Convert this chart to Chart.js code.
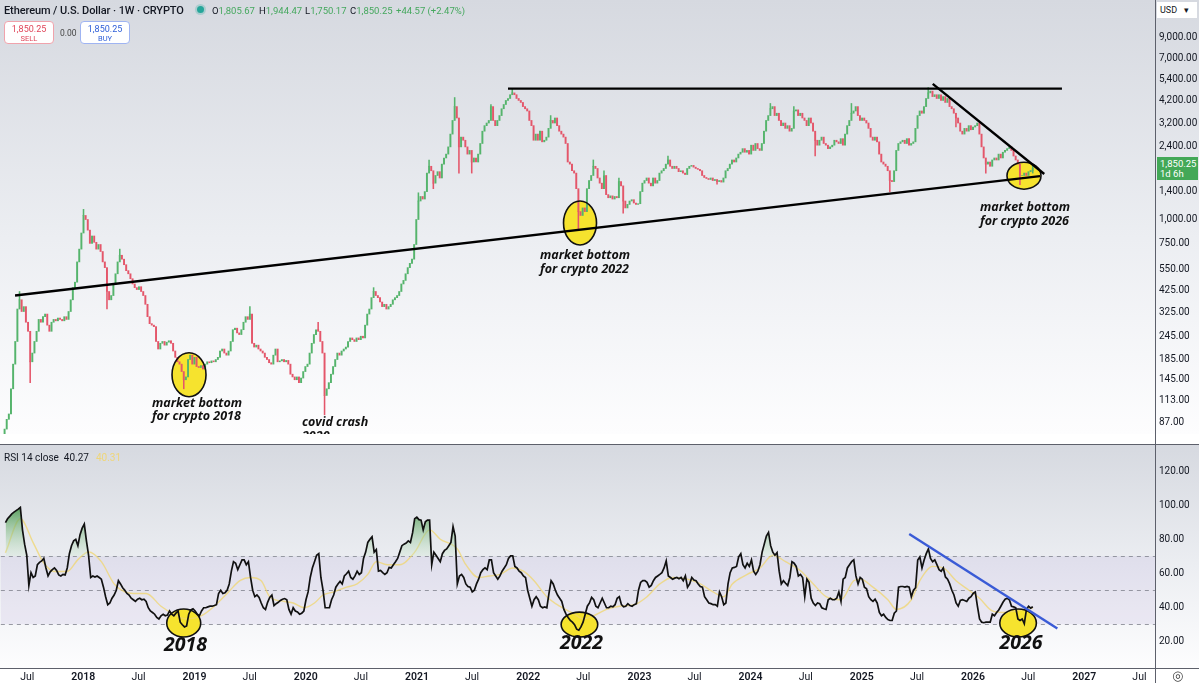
<!DOCTYPE html>
<html>
<head>
<meta charset="utf-8">
<script src="https://cdn.jsdelivr.net/npm/chart.js@4.4.1/dist/chart.umd.min.js"></script>
<style>
  html, body { margin: 0; padding: 0; background: #fff; }
  body { width: 1199px; height: 683px; position: relative; overflow: hidden; font-family: Roboto, "Noto Sans", sans-serif; color: #131722; }
  #price-wrap { position: absolute; left: 0; top: 0; width: 1199px; height: 444px; }
  #rsi-wrap { position: absolute; left: 0; top: 444px; width: 1199px; height: 239px; }
  .hline { position: absolute; left: 0; width: 1199px; height: 1px; background: #5d606b; }
  .vline { position: absolute; left: 1155px; top: 0; width: 1px; height: 683px; background: #5d606b; }
  .title { position: absolute; left: 4px; top: 4px; font-size: 11px; font-weight: 500; white-space: nowrap; letter-spacing: -0.1px; }
  .dot { position: absolute; left: 197px; top: 6px; width: 7px; height: 7px; border-radius: 50%; background: #26a69a; box-shadow: 0 0 0 2px rgba(38,166,154,0.25); }
  .ohlc { position: absolute; top: 5px; font-size: 9.5px; white-space: nowrap; }
  .ohlc span { color: #45a85e; }
  .box { position: absolute; top: 21px; width: 50px; height: 23px; border-radius: 4px; background: #fff; text-align: center; font-size: 9px; line-height: 10px; box-sizing: border-box; padding-top: 2px; }
  .box small { font-size: 7.5px; display: block; margin-top: 0; }
  .sell { left: 4px; border: 1px solid #f0a3ac; color: #e0465a; }
  .buy { left: 80px; border: 1px solid #9fb4f2; color: #2f5fd8; }
  .spread { position: absolute; left: 60px; top: 28px; font-size: 8.5px; color: #444; }
  .rsi-label { position: absolute; left: 4px; top: 452px; font-size: 10px; white-space: nowrap; }
  .rsi-label .ma { color: #efd67a; margin-left: 7px; }
  .usd { position: absolute; left: 1157px; top: 2px; width: 40px; height: 16px; background: #fff; font-size: 9px; line-height: 16px; padding-left: 3px; box-sizing: border-box; }
  .tag { position: absolute; left: 1157px; top: 157px; width: 41px; height: 23px; background: #43a857; color: #fff; font-size: 9.5px; line-height: 10px; padding: 2px 0 0 3px; box-sizing: border-box; }
  .gear { position: absolute; left: 1172px; top: 668px; font-size: 13px; color: #444; font-family: "DejaVu Sans"; }
</style>
</head>
<body>
<div id="price-wrap"><canvas id="price-chart"></canvas></div>
<div id="rsi-wrap"><canvas id="rsi-chart"></canvas></div>
<div class="hline" style="top:444px"></div>
<div class="hline" style="top:668px"></div>
<div class="vline"></div>

<div class="title">Ethereum / U.S. Dollar · 1W · CRYPTO</div>
<div class="dot"></div>
<div class="ohlc" style="left:212px">O<span>1,805.67</span></div>
<div class="ohlc" style="left:259px">H<span>1,944.47</span></div>
<div class="ohlc" style="left:305px">L<span>1,750.17</span></div>
<div class="ohlc" style="left:350px">C<span>1,850.25</span></div>
<div class="ohlc" style="left:396px"><span>+44.57 (+2.47%)</span></div>
<div class="box sell">1,850.25<small>SELL</small></div>
<div class="spread">0.00</div>
<div class="box buy">1,850.25<small>BUY</small></div>
<div class="rsi-label">RSI 14 close&nbsp; 40.27<span class="ma">40.31</span></div>
<div class="usd">USD &nbsp;&nbsp;&#9662;</div>
<div class="tag">1,850.25<br>1d 6h</div>
<div class="gear">&#9678;</div>

<script>
// weekly closes, first candle ~ April 2017
const closes = [
  80, 90, 96, 130, 175, 230, 340, 380, 330, 350,
  290, 260, 180, 200, 230, 260, 300, 290, 310, 320,
  280, 260, 290, 300, 295, 305, 300, 295, 310, 300,
  330, 380, 440, 470, 600, 700, 850, 1050, 1000, 880,
  750, 820, 760, 700, 740, 680, 600, 560, 420, 380,
  400, 460, 520, 600, 650, 620, 580, 540, 520, 490,
  460, 440, 430, 445, 420, 400, 360, 310, 285, 280,
  275, 230, 210, 225, 230, 220, 228, 232, 225, 205,
  190, 180, 175, 160, 145, 150, 185, 195, 175, 190,
  170, 168, 172, 165, 175, 180, 178, 182, 180, 185,
  190, 205, 210, 200, 195, 205, 230, 265, 270, 255,
  250, 265, 290, 310, 300, 320, 225, 215, 220, 210,
  205, 200, 190, 185, 178, 175, 195, 210, 180, 182,
  185, 180, 183, 175, 155, 150, 145, 150, 140, 148,
  160, 170, 175, 200, 225, 250, 265, 260, 230, 200,
  120, 130, 140, 155, 170, 185, 200, 195, 205, 210,
  215, 230, 240, 235, 230, 240, 235, 245, 240, 280,
  320, 340, 390, 420, 400, 390, 370, 350, 360, 340,
  350, 360, 380, 390, 400, 420, 460, 480, 520, 560,
  590, 620, 740, 1000, 1250, 1320, 1280, 1400, 1750, 1900,
  1800, 1550, 1700, 1780, 1650, 1950, 2100, 2200, 2400, 2800,
  3300, 3900, 3400, 2400, 2700, 2600, 2400, 2200, 2300, 2000,
  2100, 2000, 2200, 2500, 2900, 3100, 3200, 3300, 3900, 3300,
  3100, 3300, 3500, 3800, 4000, 4200, 4300, 4500, 4600, 4500,
  4300, 4200, 4100, 3900, 3800, 3700, 3300, 3100, 2600, 2800,
  2600, 2900, 2550, 2600, 2700, 3000, 3300, 3200, 3400, 3100,
  2900, 2800, 2700, 2500, 2000, 1950, 1800, 1750, 1450, 1100,
  1050, 1150, 1100, 1450, 1600, 1700, 1900, 1850, 1650, 1550,
  1450, 1700, 1350, 1300, 1330, 1280, 1320, 1300, 1580, 1500,
  1250, 1150, 1200, 1250, 1270, 1220, 1200, 1210, 1400, 1550,
  1600, 1650, 1550, 1500, 1650, 1550, 1600, 1750, 1800, 1850,
  1950, 2050, 1900, 1850, 1900, 1850, 1780, 1800, 1750, 1720,
  1850, 1900, 1920, 1880, 1850, 1830, 1800, 1700, 1660, 1640,
  1620, 1650, 1600, 1620, 1580, 1600, 1570, 1650, 1800, 1850,
  1950, 2050, 2000, 2100, 2200, 2250, 2350, 2250, 2300, 2200,
  2450, 2300, 2500, 2350, 2300, 2500, 2900, 3300, 3500, 3800,
  3900, 3500, 3600, 3300, 3100, 3200, 3000, 3100, 2900, 3000,
  3700, 3750, 3500, 3600, 3400, 3300, 3100, 3400, 3200, 2900,
  2600, 2450, 2600, 2700, 2500, 2450, 2350, 2400, 2450, 2600,
  2550, 2500, 2650, 2450, 2800, 3100, 3300, 3600, 3700, 3900,
  3500, 3300, 3400, 3300, 3200, 3000, 2700, 2600, 2700, 2550,
  2200, 2000, 1950, 1900, 1800, 1600, 1580, 1800, 2300, 2500,
  2550, 2600, 2500, 2650, 2450, 2500, 2550, 3000, 3500, 3700,
  3600, 3900, 4300, 4600, 4700, 4400, 4500, 4300, 4500, 4200,
  4400, 4100, 4300, 3900, 3800, 3600, 3400, 3200, 2900, 2800,
  3000, 2900, 3100, 2950, 3050, 3100, 3200, 2800, 2400, 2100,
  1950, 2000, 1900, 2050, 2100, 2050, 2200, 2100, 2250, 2300,
  2350, 2400, 2300, 2150, 2050, 1950, 1700, 1700, 1750, 1700,
  1780, 1805.67, 1850.25
];
const firstOpen = 75;
// [week index, wick extreme] for the longer wicks
const highWicks = [[7, 420], [37, 1130], [54, 700], [115, 350], [147, 290], [173, 440], [194, 1380], [199, 2050],
  [211, 4350], [228, 4000], [238, 4800], [256, 3500], [276, 2050], [281, 1800], [288, 1650], [311, 2150], [359, 4050],
  [370, 3900], [397, 4050], [433, 4900], [482, 1944.47]];
const lowWicks = [[12, 140], [48, 340], [84, 130], [150, 95], [201, 1450], [213, 1750], [219, 1750], [269, 880],
  [290, 1080], [334, 1530], [380, 2150], [415, 1400], [446, 3050], [460, 1750], [476, 1520], [482, 1750.17]];

const rsiValues = [
  89.7, 92, 93.4, 94.9, 95.9, 96.8, 97.7, 98.7, 85.5, 77.1,
  70.6, 52.8, 60.3, 57.5, 58.4, 65, 66.4, 67.2, 68.7, 63.1,
  58.4, 60.8, 62.1, 63.1, 61.6, 59, 58.4, 59.3, 59, 63.1,
  71.5, 76.2, 79, 79.9, 76.2, 82.7, 86.5, 88.9, 79, 70.6,
  57.5, 58.4, 57.8, 58.4, 57.5, 56.5, 51.8, 46.2, 41.5, 42.5,
  45.3, 47.2, 50, 55.6, 53.7, 51.5, 50, 48.1, 47.2, 45.3,
  44.4, 43.4, 44.7, 45.3, 44.4, 44.7, 43.4, 39.7, 37.8, 36.9,
  35.9, 34, 33.1, 35, 35.9, 35, 35.4, 37.8, 35.9, 35,
  36.5, 37.8, 31.2, 29.7, 28.4, 29, 35.9, 38.4, 39.1, 37.8,
  35.9, 35, 37.8, 39.7, 39.7, 40.2, 40.6, 40.6, 41, 41.5,
  48.1, 50, 48.1, 48.5, 50, 53.7, 61.2, 66.8, 65.9, 62.1,
  65, 67.8, 67.8, 65, 66.8, 57.5, 50, 46.2, 47.2, 45.8,
  42.5, 39.7, 38.7, 42.9, 45.8, 47.2, 41, 42.1, 42.9, 44,
  44.7, 45.1, 44.4, 38.7, 35.9, 39.7, 37.8, 37.2, 35.9, 36.5,
  37.8, 44.4, 49, 57.5, 63.1, 66.8, 70.6, 71.5, 57.5, 50,
  39.7, 39.7, 39.7, 44.4, 47.2, 51.8, 53.7, 55.2, 53.7, 58.4,
  59.7, 61.2, 57.5, 56.5, 58.4, 61.2, 59.3, 60.3, 68.7, 72.4,
  78.1, 79.9, 81.4, 72.4, 73.9, 61.2, 61.6, 60.3, 59.3, 60.3,
  63.4, 63.1, 65, 66.8, 68.7, 72.4, 76.2, 77.1, 77.7, 79,
  78.1, 83.7, 92.1, 93, 91.5, 91.2, 85.5, 90.2, 91.2, 91.2,
  65, 72.4, 70.6, 68.7, 66.8, 71.5, 73.4, 74.3, 76.2, 78.1,
  87.4, 81.8, 53.7, 58.4, 59.3, 57.5, 53.7, 52.2, 51.8, 49,
  50, 53.7, 56.5, 60.3, 62.1, 63.1, 62.1, 67.8, 67.8, 60.3,
  58.4, 56.5, 58.4, 61.2, 63.1, 65, 68.7, 70.2, 70.2, 64,
  63.1, 61.2, 60.3, 58.4, 57.5, 50, 45.3, 40.6, 44.4, 46.2,
  44.4, 40.6, 39.7, 40.2, 39.7, 48.1, 55.6, 53.7, 50, 47.2,
  45.3, 43.4, 38.7, 35.9, 34, 32.2, 31.2, 29.7, 27.1, 26.5,
  28.4, 31.2, 35.9, 40.6, 42.5, 45.8, 44.4, 40.6, 39.7, 42.5,
  45.3, 42.5, 39.7, 39.7, 40.6, 40.2, 41.5, 45.3, 46.2, 41.5,
  40.2, 40.6, 42.1, 41, 40.6, 41.5, 42.1, 50, 54.6, 55.6,
  55.6, 54.6, 51.8, 52.8, 55.6, 57.5, 58.4, 59.3, 60.3, 63.1,
  67.2, 58.4, 57.5, 56.5, 57.1, 57.5, 56.7, 57.5, 55.6, 58.4,
  51.8, 53.7, 57.5, 56, 55.6, 53.7, 52.2, 51.8, 46.2, 44.4,
  42.5, 42.1, 41.5, 41.5, 40.6, 49, 46.2, 41.5, 42.5, 53.7,
  60.3, 63.1, 63.4, 64, 69.6, 71.5, 65, 63.1, 65.9, 64,
  67.8, 61.2, 59.3, 61.2, 65, 72.4, 77.1, 81.8, 84, 76.2,
  72.4, 70.6, 72.1, 61.2, 53.7, 55.6, 54.1, 52.8, 57.5, 66.8,
  65.9, 64, 58.4, 59.3, 57.5, 46.2, 56.5, 54.6, 45.3, 42.5,
  41, 42.5, 42.1, 39.7, 39.1, 38.7, 44.4, 45.3, 44.4, 44.4,
  45.3, 49, 43.4, 56.5, 57.5, 63.1, 65, 66.8, 67.8, 58.4,
  53.7, 57.5, 56.5, 51.8, 50.9, 46.2, 44.4, 43.4, 44.7, 42.5,
  36.9, 35, 35.9, 34, 32.7, 32.2, 32.2, 36.5, 37.8, 51.8,
  52.2, 52.2, 51.8, 52.2, 51.8, 46.2, 50, 51.5, 67.8, 69.6,
  63.1, 67.8, 71.5, 74.3, 68.7, 66.8, 67.8, 65, 62.1, 61.2,
  63.1, 57.8, 56.5, 53.7, 50, 47.2, 42.5, 40.6, 44, 44.4,
  44, 43.4, 45.3, 46.2, 48.1, 49, 40.6, 33.1, 31.2, 30.9,
  31.2, 31.2, 31.2, 35.9, 35, 36.9, 38.4, 40.6, 42.9, 44.7,
  45.3, 44.4, 40.6, 40.2, 39.7, 33.1, 32.2, 33.1, 30.3, 38.7,
  40.6, 39.5, 40.27
];

// RSI moving average, read at a coarser step (week index -> value)
const maWeeks = [0, 7, 13, 18, 23, 29, 34, 39, 45, 51, 56, 60, 66, 73, 79, 85, 92, 98, 104, 110,
  115, 120, 124, 131, 135, 140, 145, 149, 154, 160, 165, 170, 174, 179, 185, 192, 199, 204, 212, 216,
  222, 227, 232, 238, 243, 248, 254, 260, 267, 271, 276, 282, 288, 295, 301, 307, 313, 320, 326, 332,
  337, 341, 348, 354, 360, 366, 373, 379, 385, 392, 398, 401, 407, 414, 418, 425, 429, 435, 440, 446,
  452, 457, 463, 468, 474, 482];
const maValues = [72, 92, 78, 66, 61, 61, 68, 72.5, 66.8, 53.7, 49, 48.1, 48.1, 40.6, 35.9, 33.1, 35, 40.6, 48.1, 55.6,
  57.5, 55.6, 46.2, 43.4, 42.5, 39.7, 42.5, 47.2, 49, 51.8, 53.7, 59.3, 66.8, 65, 65, 72.4, 85.5, 80, 74.3, 65,
  57.5, 58.4, 59.3, 63.1, 61.2, 55.6, 46.2, 40.6, 35.9, 33.1, 35, 38.7, 40.6, 41.5, 46.2, 53.7, 57.5, 56.5, 53.7, 49,
  46.2, 53.7, 59.3, 63.1, 70.6, 66.8, 61.5, 53.7, 46.2, 44.4, 55.6, 56.5, 51.8, 44.4, 38.7, 44.4, 55.6, 64, 63.1, 55.6,
  50, 45.3, 37.8, 36.9, 37.8, 39.7];

const priceTicks = [87, 113, 145, 185, 245, 325, 425, 550, 750, 1000, 1400, 2400, 3200, 4200, 5400, 7000, 9000];
const rsiTicks = [20, 40, 60, 80, 100, 120];
const xTickValues = [2017.496, 2018, 2018.496, 2019, 2019.496, 2020, 2020.496, 2021, 2021.496, 2022, 2022.496,
  2023, 2023.496, 2024, 2024.496, 2025, 2025.496, 2026, 2026.496, 2027, 2027.496];
const xTickLabels = ['Jul', '2018', 'Jul', '2019', 'Jul', '2020', 'Jul', '2021', 'Jul', '2022', 'Jul',
  '2023', 'Jul', '2024', 'Jul', '2025', 'Jul', '2026', 'Jul', '2027', 'Jul'];

const firstWeek = 2017.300; // decimal year
const weekLen = 7 / 365.25;
const xMin = 2017.2588, xMax = 2027.636;
const UP = '#55b46c', DOWN = '#e4566a';

const weeks = closes.map((c, i) => firstWeek + i * weekLen);
const opens = closes.map((c, i) => i === 0 ? firstOpen : closes[i - 1]);
const colorOf = i => closes[i] >= opens[i] ? UP : DOWN;

const wickData = [
  ...highWicks.map(([i, h]) => ({ x: weeks[i], y: [Math.max(opens[i], closes[i]), h], c: colorOf(i) })),
  ...lowWicks.map(([i, l]) => ({ x: weeks[i], y: [l, Math.min(opens[i], closes[i])], c: colorOf(i) }))
];

// background gradient behind each pane
const paneBg = {
  id: 'paneBg',
  beforeDraw(chart) {
    const { ctx, chartArea, width } = chart;
    const g = ctx.createLinearGradient(0, 0, 0, chartArea.bottom);
    g.addColorStop(0, '#d6d9e0');
    g.addColorStop(0.55, '#eceef2');
    g.addColorStop(1, '#fdfdfe');
    ctx.save();
    ctx.fillStyle = g;
    ctx.fillRect(0, 0, width, chartArea.bottom);
    ctx.restore();
  }
};

// hand drawn marks (ellipses, trend lines, notes) placed in data coordinates
const drawings = {
  id: 'drawings',
  beforeDatasetsDraw(chart, args, opts) {
    const { ctx, chartArea, scales: { x, y } } = chart;
    ctx.save();
    if (opts.band) {
      const top = y.getPixelForValue(70), bot = y.getPixelForValue(30);
      ctx.fillStyle = 'rgba(126, 87, 194, 0.09)';
      ctx.fillRect(chartArea.left, top, chartArea.width, bot - top);
      ctx.strokeStyle = 'rgba(120, 123, 134, 0.75)';
      ctx.lineWidth = 1;
      ctx.setLineDash([4, 4]);
      [70, 50, 30].forEach(v => {
        const py = Math.round(y.getPixelForValue(v)) + 0.5;
        ctx.beginPath();
        ctx.moveTo(chartArea.left, py);
        ctx.lineTo(chartArea.right, py);
        ctx.stroke();
      });
      ctx.setLineDash([]);
    }
    (opts.ellipses || []).forEach(e => {
      ctx.beginPath();
      ctx.ellipse(x.getPixelForValue(e.at[0]), y.getPixelForValue(e.at[1]), e.rx, e.ry, 0, 0, Math.PI * 2);
      ctx.fillStyle = '#f6e32e';
      ctx.fill();
    });
    ctx.restore();
  },
  afterDatasetsDraw(chart, args, opts) {
    const { ctx, chartArea, scales: { x, y } } = chart;
    ctx.save();
    ctx.beginPath();
    ctx.rect(chartArea.left, chartArea.top, chartArea.width, chartArea.height);
    ctx.clip();
    (opts.ellipses || []).forEach(e => {
      ctx.beginPath();
      ctx.ellipse(x.getPixelForValue(e.at[0]), y.getPixelForValue(e.at[1]), e.rx, e.ry, 0, 0, Math.PI * 2);
      ctx.strokeStyle = '#111';
      ctx.lineWidth = 1.6;
      ctx.stroke();
    });
    (opts.lines || []).forEach(l => {
      ctx.beginPath();
      ctx.moveTo(x.getPixelForValue(l.from[0]), y.getPixelForValue(l.from[1]));
      ctx.lineTo(x.getPixelForValue(l.to[0]), y.getPixelForValue(l.to[1]));
      ctx.strokeStyle = l.color;
      ctx.lineWidth = l.width;
      ctx.stroke();
    });
    (opts.notes || []).forEach(n => {
      ctx.font = n.font;
      ctx.fillStyle = '#111';
      ctx.textAlign = n.align || 'left';
      ctx.textBaseline = 'middle';
      const px = x.getPixelForValue(n.at[0]);
      const py = y.getPixelForValue(n.at[1]);
      n.text.forEach((line, k) => ctx.fillText(line, px, py + k * 13.5));
    });
    ctx.restore();
  }
};

const noteFont = 'italic 700 12.5px "Open Sans"';
const yearFont = 'italic 700 19.5px "Open Sans"';
const axisFont = { size: 10, family: 'Roboto' };
const fmt = v => Number(v).toLocaleString('en-US', { minimumFractionDigits: 2, maximumFractionDigits: 2 });

const priceChart = new Chart(document.getElementById('price-chart').getContext('2d'), {
  type: 'bar',
  data: {
    datasets: [
      {
        label: 'wicks',
        data: wickData,
        backgroundColor: wickData.map(d => d.c),
        barThickness: 0.9,
        grouped: false,
        order: 2
      },
      {
        label: 'ETHUSD',
        data: closes.map((c, i) => ({ x: weeks[i], y: [opens[i], c] })),
        backgroundColor: closes.map((c, i) => colorOf(i)),
        barThickness: 1.3,
        grouped: false,
        order: 1
      }
    ]
  },
  options: {
    responsive: true,
    maintainAspectRatio: false,
    animation: false,
    layout: { padding: 0 },
    plugins: {
      legend: { display: false },
      tooltip: { enabled: false },
      drawings: {
        ellipses: [
          { at: [2018.957, 153.9], rx: 17, ry: 22 },
          { at: [2022.470, 959.4], rx: 16.5, ry: 22 },
          { at: [2026.459, 1696], rx: 17, ry: 13.5 }
        ],
        lines: [
          { from: [2017.394, 400], to: [2026.603, 1686], color: '#000', width: 2.4 },
          { from: [2021.823, 4845], to: [2026.80, 4845], color: '#000', width: 2.4 },
          { from: [2025.639, 5132], to: [2026.641, 1731], color: '#000', width: 2.4 }
        ],
        notes: [
          { at: [2018.624, 109.6], text: ['market bottom', 'for crypto 2018'], font: noteFont },
          { at: [2019.972, 86.6], text: ['covid crash', '2020'], font: noteFont },
          { at: [2022.111, 648.6], text: ['market bottom', 'for crypto 2022'], font: noteFont },
          { at: [2026.064, 1153], text: ['market bottom', 'for crypto 2026'], font: noteFont }
        ]
      }
    },
    scales: {
      x: { type: 'linear', min: xMin, max: xMax, offset: false, display: false },
      y: {
        type: 'logarithmic',
        position: 'right',
        min: 75.4,
        max: 12494,
        afterFit: s => { s.width = 44; },
        afterBuildTicks: s => { s.ticks = priceTicks.map(v => ({ value: v })); },
        ticks: { callback: v => fmt(v), font: axisFont, color: '#131722', padding: 4 },
        grid: { display: false, drawTicks: false },
        border: { display: false }
      }
    }
  },
  plugins: [paneBg, drawings]
});

const rsiChart = new Chart(document.getElementById('rsi-chart').getContext('2d'), {
  type: 'line',
  data: {
    datasets: [
      {
        label: 'RSI',
        data: rsiValues.map((v, i) => ({ x: weeks[i], y: v })),
        borderColor: '#111',
        borderWidth: 1.7,
        pointRadius: 0,
        fill: { target: { value: 70 }, above: 'rgba(76, 175, 80, 0.5)', below: 'rgba(0, 0, 0, 0)' },
        order: 0
      },
      {
        label: 'RSI MA',
        data: maWeeks.map((w, k) => ({ x: weeks[w], y: maValues[k] })),
        borderColor: 'rgba(240, 214, 110, 0.75)',
        borderWidth: 1.4,
        pointRadius: 0,
        cubicInterpolationMode: 'monotone',
        fill: false,
        order: 1
      }
    ]
  },
  options: {
    responsive: true,
    maintainAspectRatio: false,
    animation: false,
    layout: { padding: 0 },
    plugins: {
      legend: { display: false },
      tooltip: { enabled: false },
      drawings: {
        band: true,
        ellipses: [
          { at: [2018.903, 30.7], rx: 17, ry: 14 },
          { at: [2022.461, 29.8], rx: 18.3, ry: 12.5 },
          { at: [2026.405, 30.7], rx: 18.3, ry: 14 }
        ],
        lines: [
          { from: [2025.426, 83.1], to: [2026.758, 27.5], color: '#3a5bd6', width: 2.4 }
        ],
        notes: [
          { at: [2018.918, 17.75], text: ['2018'], font: yearFont, align: 'center' },
          { at: [2022.479, 18.6], text: ['2022'], font: yearFont, align: 'center' },
          { at: [2026.432, 18.6], text: ['2026'], font: yearFont, align: 'center' }
        ]
      }
    },
    scales: {
      x: {
        type: 'linear',
        min: xMin,
        max: xMax,
        offset: false,
        afterBuildTicks: s => { s.ticks = xTickValues.map(v => ({ value: v })); },
        afterFit: s => { s.height = 15; },
        ticks: {
          autoSkip: false,
          maxRotation: 0,
          minRotation: 0,
          padding: 3,
          color: '#131722',
          callback: (v, i) => xTickLabels[i],
          font: ctx => ({ size: 10.5, family: 'Roboto', weight: ctx.tick && Number.isInteger(ctx.tick.value) ? '600' : '400' })
        },
        grid: { display: false, drawTicks: false },
        border: { display: false }
      },
      y: {
        type: 'linear',
        position: 'right',
        min: 4.27,
        max: 130.1,
        afterFit: s => { s.width = 44; },
        afterBuildTicks: s => { s.ticks = rsiTicks.map(v => ({ value: v })); },
        ticks: { callback: v => fmt(v), font: axisFont, color: '#131722', padding: 4 },
        grid: { display: false, drawTicks: false },
        border: { display: false }
      }
    }
  },
  plugins: [paneBg, drawings]
});

// overbought fill fades from green to pale at the 70 line
const ys = rsiChart.scales.y;
const green = rsiChart.ctx.createLinearGradient(0, ys.getPixelForValue(100), 0, ys.getPixelForValue(70));
green.addColorStop(0, 'rgba(56, 142, 60, 0.85)');
green.addColorStop(1, 'rgba(200, 230, 201, 0.25)');
rsiChart.data.datasets[0].fill.above = green;
rsiChart.update('none');
</script>
</body>
</html>
